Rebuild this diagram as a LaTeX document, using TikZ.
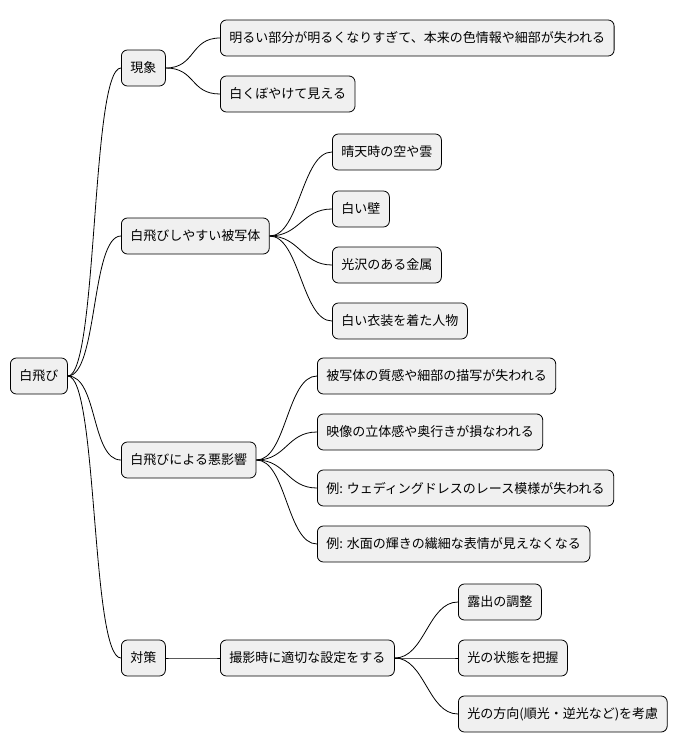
\documentclass[tikz,border=0pt]{standalone}
\usepackage{fontspec}
\newfontfamily\cjk{Noto Sans CJK JP}
\begin{document}
\begin{tikzpicture}[x=1pt,y=-1pt,
    box/.style={draw=black, fill=black!6, rounded corners=6pt, line width=0.8pt,
      minimum height=36pt, inner xsep=9pt, anchor=west,
      font=\cjk\fontsize{13}{16}\selectfont},
    link/.style={line width=0.8pt}]
    \useasboundingbox (0,0) rectangle (695,752);

    % Root and first level
    \node[box] (root) at (10,376) {白飛び};
    \node[box] (gensho) at (121,68) {現象};
    \node[box] (hishatai) at (121,236) {白飛びしやすい被写体};
    \node[box] (eikyo) at (121,460) {白飛びによる悪影響};
    \node[box] (taisaku) at (121,658) {対策};

    % Leaves
    \node[box] (g1) at (220,38) {明るい部分が明るくなりすぎて、本来の色情報や細部が失われる};
    \node[box] (g2) at (220,94) {白くぼやけて見える};

    \node[box] (h1) at (332,152) {晴天時の空や雲};
    \node[box] (h2) at (332,209) {白い壁};
    \node[box] (h3) at (332,265) {光沢のある金属};
    \node[box] (h4) at (332,321) {白い衣装を着た人物};

    \node[box] (e1) at (317,376) {被写体の質感や細部の描写が失われる};
    \node[box] (e2) at (317,432) {映像の立体感や奥行きが損なわれる};
    \node[box] (e3) at (317,488) {例: ウェディングドレスのレース模様が失われる};
    \node[box] (e4) at (317,544) {例: 水面の輝きの繊細な表情が見えなくなる};

    \node[box] (t0) at (220,658) {撮影時に適切な設定をする};
    \node[box] (t1) at (458,602) {露出の調整};
    \node[box] (t2) at (458,658) {光の状態を把握};
    \node[box] (t3) at (458,714) {光の方向(順光・逆光など)を考慮};

    % Connectors
    \foreach \p/\c in {root/gensho, root/hishatai, root/eikyo, root/taisaku,
        gensho/g1, gensho/g2, hishatai/h1, hishatai/h2, hishatai/h3, hishatai/h4,
        eikyo/e1, eikyo/e2, eikyo/e3, eikyo/e4, taisaku/t0, t0/t1, t0/t2, t0/t3}
      \draw[link] (\p.east) .. controls +(30,0) and +(-30,0) .. (\c.west);
\end{tikzpicture}
\end{document}
